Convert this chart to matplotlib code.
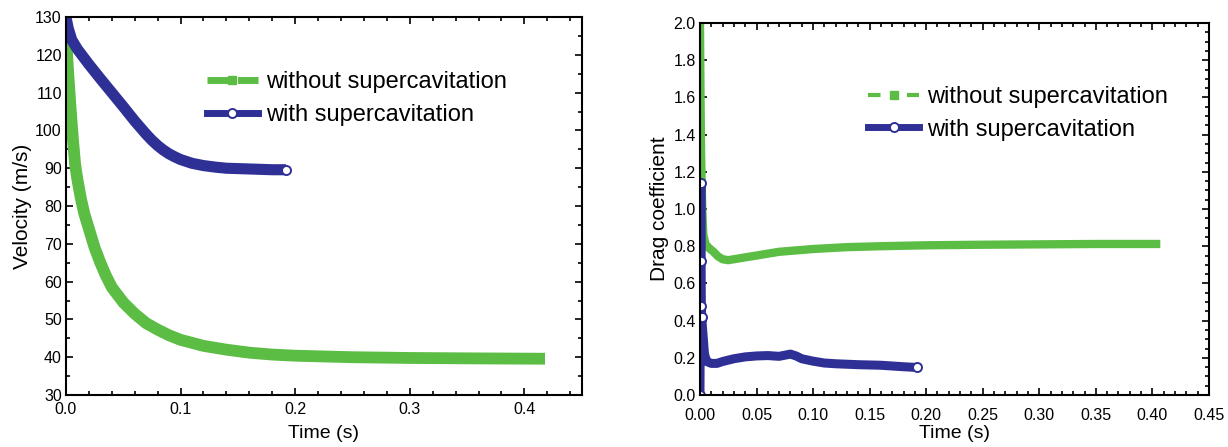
import matplotlib
matplotlib.use("Agg")
import matplotlib.pyplot as plt
from matplotlib.lines import Line2D
from matplotlib.ticker import MultipleLocator, FormatStrFormatter

plt.rcParams["font.family"] = ["Liberation Sans", "DejaVu Sans"]
plt.rcParams["lines.scale_dashes"] = False

GREEN = "#5cbd45"
BLUE = "#2f3096"

# velocity history
t_vel_without = [0, 0.002, 0.004, 0.006, 0.008, 0.01, 0.013, 0.016, 0.02, 0.025,
                 0.03, 0.035, 0.04, 0.05, 0.06, 0.07, 0.08, 0.09, 0.1, 0.12,
                 0.14, 0.16, 0.18, 0.2, 0.25, 0.3, 0.35, 0.418]
vel_without = [125, 115, 106, 98, 91, 87, 82, 78, 74, 69,
               65, 61.5, 58.5, 54.5, 51.5, 49, 47.3, 45.8, 44.6, 43,
               42, 41.2, 40.7, 40.4, 40.0, 39.8, 39.7, 39.6]

t_vel_with = [0, 0.002, 0.005, 0.01, 0.015, 0.02, 0.03, 0.04, 0.05, 0.06,
              0.07, 0.075, 0.08, 0.085, 0.09, 0.095, 0.1, 0.11, 0.12, 0.13,
              0.14, 0.16, 0.18, 0.192]
vel_with = [130, 127, 124, 121.5, 119.5, 117.5, 113.7, 110, 106.3, 102.5,
            99, 97.4, 96, 94.8, 93.8, 93, 92.3, 91.3, 90.7, 90.3,
            90.0, 89.8, 89.6, 89.6]

# drag coefficient history
t_cd_without = [0, 0.0005, 0.001, 0.002, 0.003, 0.005, 0.008, 0.012, 0.016, 0.02,
                0.025, 0.03, 0.04, 0.05, 0.07, 0.1, 0.13, 0.16, 0.2, 0.25,
                0.3, 0.35, 0.407]
cd_without = [2.0, 1.6, 1.3, 1.0, 0.86, 0.81, 0.79, 0.77, 0.745, 0.73,
              0.725, 0.73, 0.74, 0.75, 0.77, 0.785, 0.795, 0.8, 0.805, 0.808,
              0.81, 0.812, 0.812]

t_cd_with = [0, 0.0008, 0.001, 0.0012, 0.0015, 0.002, 0.003, 0.004, 0.006, 0.01,
             0.015, 0.02, 0.03, 0.04, 0.05, 0.06, 0.07, 0.08, 0.085, 0.09,
             0.1, 0.11, 0.12, 0.14, 0.16, 0.18, 0.192]
cd_with = [0.0, 1.14, 0.72, 0.48, 0.42, 0.38, 0.3, 0.22, 0.18, 0.17,
           0.17, 0.18, 0.195, 0.205, 0.21, 0.212, 0.208, 0.22, 0.21, 0.195,
           0.182, 0.172, 0.168, 0.163, 0.16, 0.152, 0.148]

fig = plt.figure(figsize=(12.28, 4.47), dpi=100)
ax1 = fig.add_axes([0.0537, 0.1163, 0.420, 0.8456])
ax2 = fig.add_axes([0.570, 0.1163, 0.4145, 0.8322])

marker_kw = dict(marker="o", ms=6.5, mfc="white", mec=BLUE, mew=1.4)
line_kw = dict(solid_capstyle="butt", solid_joinstyle="round")

ax1.plot(t_vel_without, vel_without, color=GREEN, lw=8.5, **line_kw)
ax1.plot(t_vel_with, vel_with, color=BLUE, lw=8, markevery=[len(t_vel_with) - 1],
         **marker_kw, **line_kw)

ax2.plot(t_cd_without, cd_without, color=GREEN, lw=6, **line_kw)
ax2.plot(t_cd_with, cd_with, color=BLUE, lw=6.5,
         markevery=[0, 1, 2, 3, 4, len(t_cd_with) - 1], **marker_kw, **line_kw)

ax1.set_xlim(0, 0.45)
ax1.set_ylim(30, 130)
ax1.xaxis.set_major_locator(MultipleLocator(0.1))
ax1.xaxis.set_minor_locator(MultipleLocator(0.02))
ax1.yaxis.set_major_locator(MultipleLocator(10))
ax1.yaxis.set_minor_locator(MultipleLocator(5))
ax1.xaxis.set_major_formatter(FormatStrFormatter("%.1f"))
ax1.set_xlabel("Time (s)", fontsize=14, labelpad=6)
ax1.set_ylabel("Velocity (m/s)", fontsize=15, labelpad=2)
ax1.tick_params(axis="x", which="both", pad=5)

ax2.set_xlim(0, 0.45)
ax2.set_ylim(0, 2.0)
ax2.xaxis.set_major_locator(MultipleLocator(0.05))
ax2.xaxis.set_minor_locator(MultipleLocator(0.01))
ax2.yaxis.set_major_locator(MultipleLocator(0.2))
ax2.yaxis.set_minor_locator(MultipleLocator(0.05))
ax2.xaxis.set_major_formatter(FormatStrFormatter("%.2f"))
ax2.yaxis.set_major_formatter(FormatStrFormatter("%.1f"))
ax2.set_xlabel("Time (s)", fontsize=14, labelpad=2)
ax2.set_ylabel("Drag coefficient", fontsize=15, labelpad=3)
ax2.tick_params(axis="x", which="both", pad=9)

for ax in (ax1, ax2):
    for sp in ax.spines.values():
        sp.set_linewidth(1.5)
    ax.tick_params(which="both", direction="in", top=True, right=True,
                   labelsize=11.5, width=1.2)
    ax.tick_params(axis="y", which="both", pad=3)
    ax.tick_params(which="major", length=5)
    ax.tick_params(which="minor", length=3)

left_handles = [
    Line2D([], [], color=GREEN, lw=5, dashes=(16, 6), marker="s", ms=5.5),
    Line2D([], [], color=BLUE, lw=5, **marker_kw),
]
right_handles = [
    Line2D([], [], color=GREEN, lw=3, dashes=(9, 19), marker="s", ms=5.5),
    Line2D([], [], color=BLUE, lw=5, **marker_kw),
]
labels = ["without supercavitation", "with supercavitation"]

legend_kw = dict(loc="upper left", frameon=False, fontsize=17, handlelength=2.15,
                 handletextpad=0.34, labelspacing=0.45, numpoints=1, borderaxespad=0)
ax1.legend(left_handles, labels, bbox_to_anchor=(0.255, 0.881), **legend_kw)
ax2.legend(right_handles, labels, bbox_to_anchor=(0.312, 0.856), **legend_kw)

fig.savefig("out.png", dpi=100)
